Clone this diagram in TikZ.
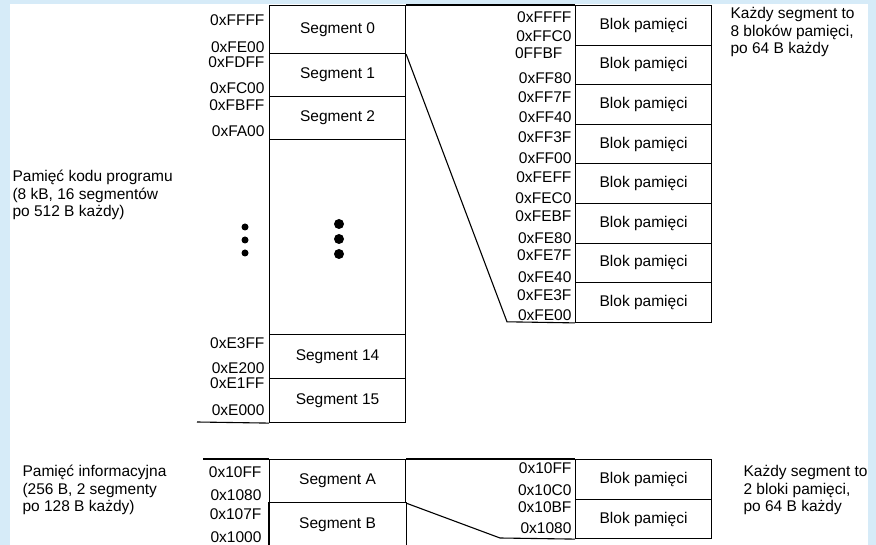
\documentclass[tikz,border=0pt]{standalone}
\usepackage{fontspec}
\setmainfont{Liberation Sans}
\definecolor{frameblue}{RGB}{214,235,248}
\begin{document}
\begin{tikzpicture}[x=1pt,y=-1pt,line width=1.1pt,
  every node/.style={font=\fontsize{15.5}{17.5}\selectfont,inner sep=0pt},
  segbox/.style={draw,minimum width=136pt,anchor=north west},
  blkbox/.style={draw,minimum width=136pt,anchor=north west},
  addr/.style={anchor=east},
  note/.style={anchor=west,align=left},
  bigdot/.style={circle,fill,minimum size=10pt},
  smalldot/.style={circle,fill,minimum size=7pt}]
\useasboundingbox (0,0) rectangle (876,545);
\fill[frameblue] (0,0) rectangle (876,545);
\fill[white] (10,4) rectangle (868,545);
% program memory segments
\node[segbox,minimum height=48pt] (s0) at (269,5) {Segment 0};
\node[segbox,minimum height=43pt] (s1) at (269,53) {Segment 1};
\node[segbox,minimum height=43pt] (s2) at (269,96) {Segment 2};
\node[segbox,minimum height=195pt] (sg) at (269,139) {};
\node[segbox,minimum height=44pt] (s14) at (269,334) {Segment 14};
\node[segbox,minimum height=44pt] (s15) at (269,378) {Segment 15};
\coordinate (bl) at (197,422);
\draw (bl) -- (s15.south west);
% dots
\node[smalldot] (d1) at (245,227) {};
\node[smalldot] (d2) at (245,240) {};
\node[smalldot] (d3) at (245,253) {};
\node[bigdot] (e1) at (339,224) {};
\node[bigdot] (e2) at (339,239) {};
\node[bigdot] (e3) at (339,254) {};
% addresses main
\node[addr] (a1) at (265,20) {0xFFFF};
\node[addr] (a2) at (265,47) {0xFE00};
\node[addr] (a3) at (265,62) {0xFDFF};
\node[addr] (a4) at (265,88) {0xFC00};
\node[addr] (a5) at (265,105) {0xFBFF};
\node[addr] (a6) at (265,131) {0xFA00};
\node[addr] (a7) at (265,343) {0xE3FF};
\node[addr] (a8) at (265,368) {0xE200};
\node[addr] (a9) at (265,383) {0xE1FF};
\node[addr] (a10) at (265,410) {0xE000};
% blocks
\foreach \i in {1,...,8}{
  \node[blkbox,minimum height=39.6pt] (b\i) at (575,{5+39.6*(\i-1)}) {Blok pamięci};
}
\node[addr] (c1) at (572,17) {0xFFFF};
\node[addr] (c2) at (572,36) {0xFFC0};
\node[addr] (c3) at (563,53) {0FFBF};
\node[addr] (c4) at (572,78) {0xFF80};
\node[addr] (c5) at (572,97) {0xFF7F};
\node[addr] (c6) at (572,117) {0xFF40};
\node[addr] (c7) at (572,137) {0xFF3F};
\node[addr] (c8) at (572,158) {0xFF00};
\node[addr] (c9) at (572,177) {0xFEFF};
\node[addr] (c10) at (572,198) {0xFEC0};
\node[addr] (c11) at (572,216) {0xFEBF};
\node[addr] (c12) at (572,238) {0xFE80};
\node[addr] (c13) at (572,255) {0xFE7F};
\node[addr] (c14) at (572,277) {0xFE40};
\node[addr] (c15) at (572,295) {0xFE3F};
\node[addr] (c16) at (572,315) {0xFE00};
\coordinate (dg) at (507,321.8);
\draw (s0.north east) -- (b1.north west);
\draw (s0.south east) -- (dg) -- (b8.south west);
% notes
\node[note] (n1) at (730,32) {Każdy segment to\\8 bloków pamięci,\\po 64 B każdy};
\node[note] (n2) at (12,195) {Pamięć kodu programu\\(8 kB, 16 segmentów\\po 512 B każdy)};
% information memory
\node[segbox,minimum height=43pt] (sa) at (269,459) {Segment A};
\node[segbox,draw=none,minimum height=44pt] (sb) at (269,502) {Segment B};
\draw (sb.north west) -- (sb.south west);
\draw (sb.north east) -- (sb.south east);
\coordinate (tl) at (203,459);
\draw (tl) -- (sa.north west);
\node[blkbox,minimum height=40pt] (ba) at (575,459) {Blok pamięci};
\node[blkbox,minimum height=39pt] (bb) at (575,499) {Blok pamięci};
\coordinate (dg2) at (500,538);
\draw (sa.north east) -- (ba.north west);
\draw (sa.south east) -- (dg2) -- (bb.south west);
\node[addr] (f1) at (262,472) {0x10FF};
\node[addr] (f2) at (262,495) {0x1080};
\node[addr] (f3) at (262,514) {0x107F};
\node[addr] (f4) at (262,537) {0x1000};
\node[addr] (g1) at (572,468) {0x10FF};
\node[addr] (g2) at (572,490) {0x10C0};
\node[addr] (g3) at (572,507) {0x10BF};
\node[addr] (g4) at (572,528) {0x1080};
\node[note] (n3) at (743,490) {Każdy segment to\\2 bloki pamięci,\\po 64 B każdy};
\node[note] (n4) at (22,490) {Pamięć informacyjna\\(256 B, 2 segmenty\\po 128 B każdy)};
\end{tikzpicture}
\end{document}
